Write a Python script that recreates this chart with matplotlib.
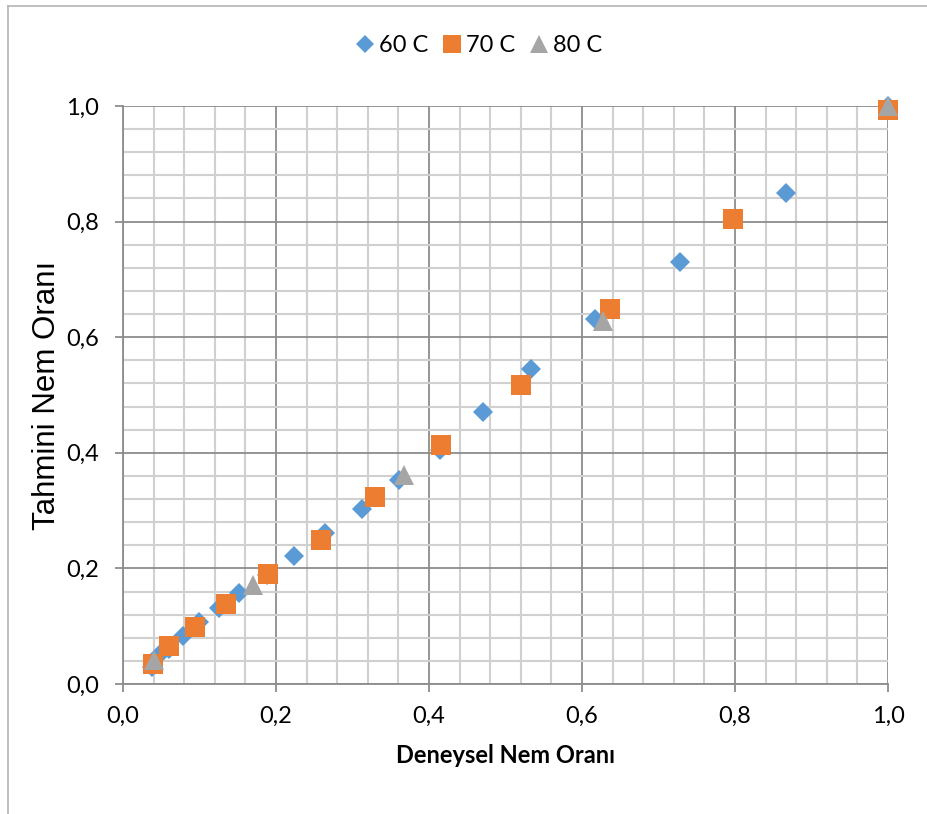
import matplotlib
matplotlib.use("Agg")
import matplotlib.pyplot as plt
from matplotlib.lines import Line2D
from matplotlib.ticker import MultipleLocator, FuncFormatter

# 60 C
x60 = [0.038, 0.047, 0.060, 0.078, 0.100, 0.125, 0.152, 0.188, 0.224, 0.264,
       0.312, 0.361, 0.415, 0.471, 0.533, 0.617, 0.728, 0.867, 1.0]
y60 = [0.030, 0.050, 0.061, 0.083, 0.108, 0.131, 0.158, 0.189, 0.222, 0.261,
       0.303, 0.353, 0.405, 0.471, 0.545, 0.631, 0.730, 0.849, 1.0]
# 70 C
x70 = [0.039, 0.060, 0.094, 0.135, 0.189, 0.259, 0.330, 0.416, 0.520, 0.636, 0.798, 1.0]
y70 = [0.035, 0.065, 0.099, 0.139, 0.190, 0.250, 0.323, 0.413, 0.518, 0.649, 0.804, 0.993]
# 80 C
x80 = [0.040, 0.170, 0.367, 0.627, 1.0]
y80 = [0.041, 0.171, 0.362, 0.628, 1.0]

SERIES_NAMES = ["60 C", "70 C", "80 C"]
COLORS = ["#5B9BD5", "#ED7D31", "#A5A5A5"]

fig = plt.figure(figsize=(9.28, 8.14), dpi=100)
ax = fig.add_axes([123 / 928, 1 - 684 / 814, 765 / 928, 578 / 814])

ax.plot(x60, y60, linestyle="none", marker="D", ms=10, color=COLORS[0], mew=0,
        label=SERIES_NAMES[0], zorder=3, clip_on=False)
ax.plot(x70, y70, linestyle="none", marker="s", ms=14, color=COLORS[1], mew=0,
        label=SERIES_NAMES[1], zorder=4, clip_on=False)
ax.plot(x80, y80, linestyle="none", marker="^", ms=14, color=COLORS[2], mew=0,
        label=SERIES_NAMES[2], zorder=5, clip_on=False)

ax.set_xlim(0, 1)
ax.set_ylim(0, 1)
for axis in (ax.xaxis, ax.yaxis):
    axis.set_major_locator(MultipleLocator(0.2))
    axis.set_minor_locator(MultipleLocator(0.04))
    axis.set_major_formatter(FuncFormatter(lambda v, p: f"{v:.1f}".replace(".", ",")))

ax.grid(which="minor", color="#d0d0d0", lw=1.5, zorder=0)
ax.grid(which="major", color="#8c8c8c", lw=1.3, zorder=1)
ax.set_axisbelow(True)

for side in ("top", "right"):
    ax.spines[side].set_visible(False)
for side in ("left", "bottom"):
    ax.spines[side].set_color("#8c8c8c")
    ax.spines[side].set_linewidth(1.3)

ax.tick_params(which="minor", length=0)
ax.tick_params(which="major", length=6, width=1.3, color="#8c8c8c", labelsize=17)
ax.tick_params(axis="y", pad=11)
ax.tick_params(axis="x", pad=10)
for lab in ax.get_xticklabels() + ax.get_yticklabels():
    lab.set_fontfamily("Lato")

ax.set_xlabel("Deneysel Nem Oranı", fontsize=17, fontfamily="Lato", fontweight="bold", labelpad=12)
ax.set_ylabel("Tahmini Nem Oranı", fontsize=22.5, fontfamily="Liberation Sans", labelpad=3)

handles = [
    Line2D([], [], linestyle="none", marker="D", ms=9, color=COLORS[0], mew=0),
    Line2D([], [], linestyle="none", marker="s", ms=12.5, color=COLORS[1], mew=0),
    Line2D([], [], linestyle="none", marker="^", ms=13, color=COLORS[2], mew=0),
]
fig.legend(handles, SERIES_NAMES, loc="center", bbox_to_anchor=(479 / 928, 1 - 46 / 814), ncol=3,
           frameon=False, handlelength=0.8, handletextpad=0.2, columnspacing=0.6,
           prop={"family": "Lato", "size": 17})

# chart frame
fig.add_artist(Line2D([8 / 928, 8 / 928], [0, 1 - 6 / 814], color="#b4b4b4", lw=1.2))
fig.add_artist(Line2D([8 / 928, 1], [1 - 6 / 814, 1 - 6 / 814], color="#b4b4b4", lw=1.2))

fig.savefig("out.png", dpi=100)
